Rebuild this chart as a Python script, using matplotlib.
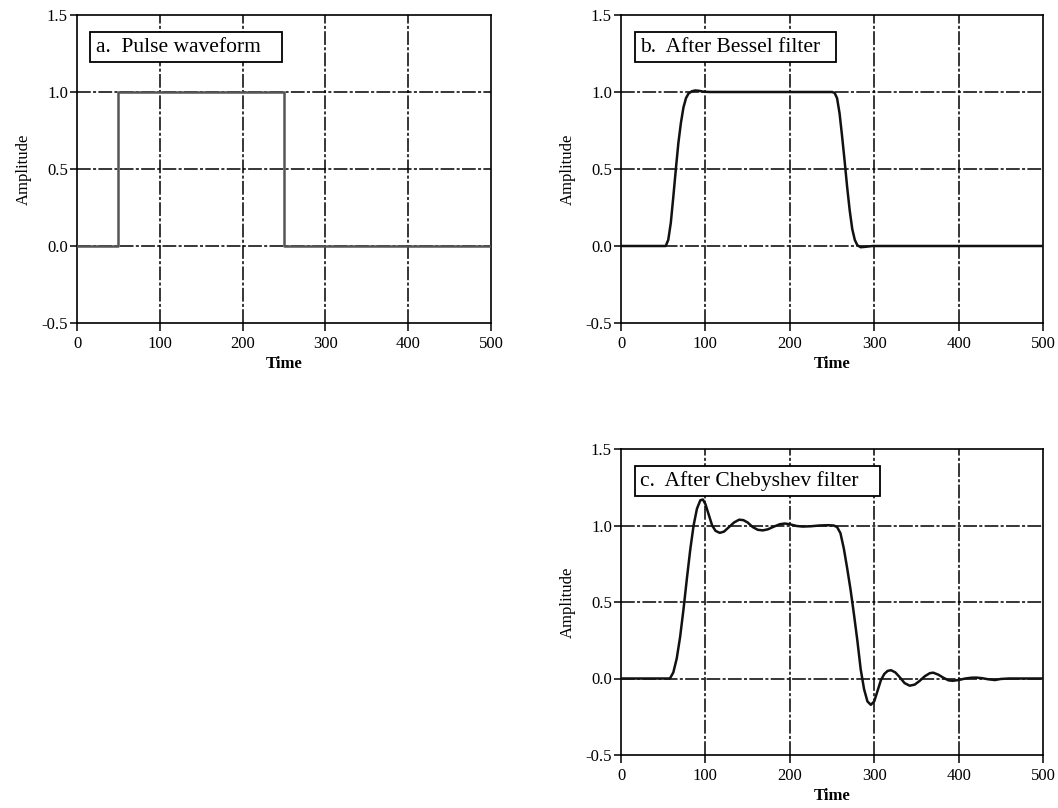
import matplotlib
matplotlib.use("Agg")
import matplotlib.pyplot as plt

# ---- data ----
pulse_t = [0, 50, 50, 250, 250, 500]
pulse_a = [0, 0, 1, 1, 0, 0]

bessel_t = [0, 50, 53, 56, 59, 62, 65, 68, 71, 74, 77, 80, 84, 88, 92, 98, 105,
            250, 253, 256, 259, 262, 265, 268, 271, 274, 277, 280, 284, 290, 298, 500]
bessel_a = [0, 0, 0, 0.04, 0.15, 0.32, 0.50, 0.67, 0.80, 0.90, 0.96, 0.99, 1.005, 1.01, 1.008, 1.002, 1.0,
            1.0, 0.995, 0.96, 0.86, 0.71, 0.55, 0.38, 0.23, 0.11, 0.04, 0.005, -0.008, -0.005, 0.0, 0.0]

cheby_t = [0, 58, 62, 66, 70, 74, 78, 82, 86, 90, 94, 97, 100, 104, 108, 112, 117, 122,
           128, 134, 140, 145, 150, 156, 162, 168, 174, 180, 188, 194, 200, 208, 215, 225,
           235, 245, 252, 256, 260, 264, 268, 272, 276, 280, 284, 288, 292, 296, 300, 304,
           308, 312, 316, 320, 325, 330, 336, 342, 348, 354, 360, 366, 370, 376, 382, 388,
           393, 400, 408, 415, 421, 428, 435, 443, 450, 460, 500]
cheby_a = [0, 0, 0.04, 0.13, 0.27, 0.45, 0.65, 0.84, 1.0, 1.11, 1.165, 1.17, 1.14, 1.07, 1.0, 0.965, 0.952, 0.96,
           0.99, 1.02, 1.038, 1.035, 1.02, 0.99, 0.972, 0.968, 0.975, 0.99, 1.008, 1.013, 1.008, 0.997, 0.993, 0.995,
           1.0, 1.002, 1.0, 0.99, 0.95, 0.85, 0.72, 0.58, 0.42, 0.25, 0.06, -0.07, -0.15, -0.172, -0.15, -0.08,
           -0.01, 0.03, 0.05, 0.054, 0.04, 0.01, -0.03, -0.047, -0.04, -0.015, 0.015, 0.035, 0.038, 0.025, 0.005, -0.012,
           -0.015, -0.01, 0.0, 0.005, 0.006, 0.002, -0.005, -0.01, -0.003, 0.0, 0.0]

x_ticks = [0, 100, 200, 300, 400, 500]
y_ticks = [-0.5, 0.0, 0.5, 1.0, 1.5]
y_tick_labels = ["-0.5", "0.0", "0.5", "1.0", "1.5"]
titles = ["a.  Pulse waveform   ", "b.  After Bessel filter  ", "c.  After Chebyshev filter   "]

plt.rcParams['font.family'] = ['Liberation Serif', 'DejaVu Serif']

fig = plt.figure(figsize=(10.58, 8.08), dpi=100)
positions = [
    [77/1058, (808-323)/808, 414/1058, 308/808],
    [621/1058, (808-323)/808, 422/1058, 308/808],
    [621/1058, (808-755)/808, 422/1058, 306/808],
]
series = [(pulse_t, pulse_a), (bessel_t, bessel_a), (cheby_t, cheby_a)]
line_colors = ["#555555", "#111111", "#111111"]

for pos, (t, a), title, lc in zip(positions, series, titles, line_colors):
    ax = fig.add_axes(pos)
    ax.set_xlim(0, 500)
    ax.set_ylim(-0.5, 1.5)
    ax.set_xticks(x_ticks)
    ax.set_yticks(y_ticks)
    ax.set_yticklabels(y_tick_labels)
    ax.tick_params(direction='out', length=5, width=1.1, labelsize=12, pad=1.5)
    ax.tick_params(axis='x', length=6, pad=3)
    for s in ax.spines.values():
        s.set_linewidth(1.2)
    for gx in x_ticks[1:-1]:
        ax.axvline(gx, color='black', lw=1.1, dashes=(9, 1.5, 2, 1.5), zorder=1)
    for gy in [0.0, 0.5, 1.0]:
        ax.axhline(gy, color='black', lw=1.1, dashes=(9, 1.5, 2, 1.5), zorder=1)
    ax.plot(t, a, color=lc, lw=1.8, zorder=3)
    ax.set_xlabel("Time", fontsize=12, fontweight='bold', labelpad=3)
    ax.set_ylabel("Amplitude", fontsize=12, labelpad=7)
    ax.text(0.045, 0.895, title, transform=ax.transAxes, fontsize=15.5,
            va='center', ha='left', zorder=5,
            bbox=dict(boxstyle='square,pad=0.25', fc='white', ec='black', lw=1.3))

fig.savefig("out.png", dpi=100)
